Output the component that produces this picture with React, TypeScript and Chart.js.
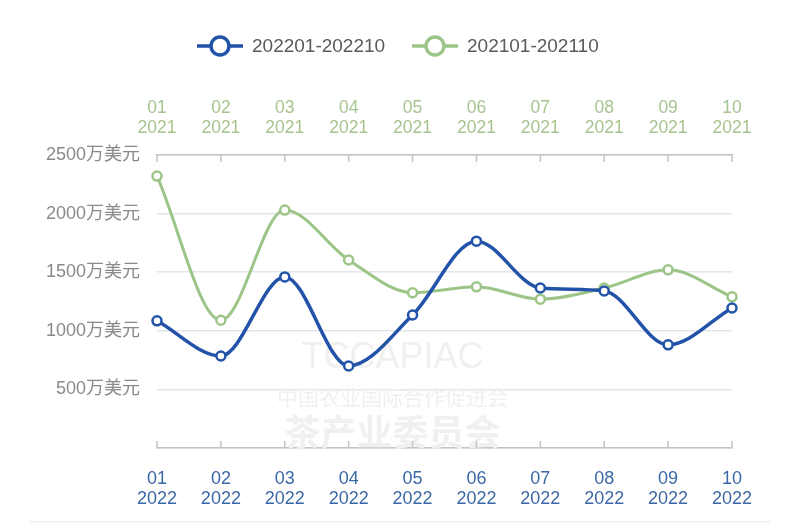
import React, { useEffect, useRef } from 'react';
import { Chart, registerables } from 'chart.js';

Chart.register(...registerables);

// ---- data ----
const months = ['01', '02', '03', '04', '05', '06', '07', '08', '09', '10'];
const yearBottom = '2022';
const yearTop = '2021';
const series2022 = [1085, 785, 1460, 700, 1135, 1765, 1365, 1340, 880, 1195];
const series2021 = [2320, 1090, 2030, 1605, 1325, 1375, 1270, 1365, 1520, 1290];
const seriesNames = ['202201-202210', '202101-202110'];
const yMax = 2500;
const yStep = 500;
const yUnit = '万美元';

const BLUE = '#2253a9';
const GREEN = '#9dc588';
const FONT = '"Liberation Sans", Arial, "Noto Sans CJK SC", sans-serif';

const bottomLabels = months.map((m) => [m, yearBottom]);
const topLabels = months.map((m) => [m, yearTop]);

const decorPlugin = {
  id: 'decor',
  beforeDatasetsDraw(chart: any) {
    const ctx = chart.ctx;
    const area = chart.chartArea;
    const cx = (area.left + area.right) / 2 - 52;
    ctx.save();
    ctx.fillStyle = '#f0f0f0';
    ctx.textAlign = 'center';
    ctx.textBaseline = 'middle';
    ctx.font = '36px ' + FONT;
    ctx.fillText('TCCAPIAC', cx, 358);
    ctx.font = '21px "Noto Sans CJK SC", sans-serif';
    ctx.fillText('中国农业国际合作促进会', cx, 397);
    ctx.font = 'bold 36px "Noto Sans CJK SC", sans-serif';
    ctx.fillText('茶产业委员会', cx, 432);
    ctx.restore();
  },
  afterDraw(chart: any) {
    const ctx = chart.ctx;
    const area = chart.chartArea;
    const xb = chart.scales.x;
    ctx.save();
    // inward tick marks
    ctx.strokeStyle = '#c4c4c4';
    ctx.lineWidth = 1.5;
    for (let i = 0; i < months.length; i++) {
      const px = xb.getPixelForValue(i);
      ctx.beginPath();
      ctx.moveTo(px, area.top);
      ctx.lineTo(px, area.top + 7);
      ctx.moveTo(px, area.bottom);
      ctx.lineTo(px, area.bottom - 7);
      ctx.stroke();
    }
    // bottom separator
    ctx.fillStyle = '#f2f2f2';
    ctx.fillRect(30, 521, 740, 2);
    // legend
    const items = [
      { name: seriesNames[0], color: BLUE, x: 197 },
      { name: seriesNames[1], color: GREEN, x: 412 },
    ];
    const y = 46;
    ctx.font = '19px ' + FONT;
    ctx.textBaseline = 'middle';
    ctx.textAlign = 'left';
    for (const it of items) {
      ctx.strokeStyle = it.color;
      ctx.lineWidth = 3.5;
      ctx.beginPath();
      ctx.moveTo(it.x, y);
      ctx.lineTo(it.x + 46, y);
      ctx.stroke();
      ctx.beginPath();
      ctx.arc(it.x + 23, y, 9, 0, Math.PI * 2);
      ctx.fillStyle = '#ffffff';
      ctx.fill();
      ctx.lineWidth = 3.5;
      ctx.stroke();
      ctx.fillStyle = '#5a5a5a';
      ctx.fillText(it.name, it.x + 55, y + 1);
    }
    ctx.restore();
  },
};

export default function App() {
  const ref = useRef<HTMLCanvasElement | null>(null);
  useEffect(() => {
    if (!ref.current) return;
    const chart = new Chart(ref.current, {
      type: 'line',
      data: {
        labels: bottomLabels as any,
        datasets: [
          {
            label: seriesNames[0],
            data: series2022,
            xAxisID: 'x',
            yAxisID: 'y',
            borderColor: BLUE,
            borderWidth: 3.5,
            cubicInterpolationMode: 'monotone',
            pointRadius: 4.5,
            pointBorderWidth: 2.5,
            pointBackgroundColor: '#ffffff',
            pointBorderColor: BLUE,
            clip: false as any,
          },
          {
            label: seriesNames[1],
            data: series2021,
            xAxisID: 'xTop',
            yAxisID: 'y',
            borderColor: GREEN,
            borderWidth: 3,
            cubicInterpolationMode: 'monotone',
            pointRadius: 4.5,
            pointBorderWidth: 2.5,
            pointBackgroundColor: '#ffffff',
            pointBorderColor: GREEN,
            clip: false as any,
          },
        ],
      },
      options: {
        animation: false,
        responsive: true,
        maintainAspectRatio: false,
        layout: { padding: { top: 80, left: 0, right: 68, bottom: 0 } },
        plugins: { legend: { display: false }, tooltip: { enabled: false } },
        scales: {
          x: {
            type: 'category',
            position: 'bottom',
            labels: bottomLabels as any,
            offset: false,
            grid: { display: false, drawTicks: false },
            border: { display: true, color: '#c4c4c4', width: 1.5 },
            ticks: {
              color: '#3b68a6',
              font: { size: 18, family: FONT, lineHeight: 1.1 },
              padding: 21,
              maxRotation: 0,
              autoSkip: false,
            },
            afterFit: (s: any) => {
              s.height = 84;
            },
          },
          xTop: {
            type: 'category',
            position: 'top',
            labels: topLabels as any,
            offset: false,
            grid: { display: false, drawTicks: false },
            border: { display: true, color: '#c4c4c4', width: 1.5 },
            ticks: {
              color: '#a6c48f',
              font: { size: 17.5, family: FONT, lineHeight: 1.12 },
              padding: 17,
              maxRotation: 0,
              autoSkip: false,
            },
            afterFit: (s: any) => {
              s.height = 75;
            },
          },
          y: {
            min: 0,
            max: yMax,
            ticks: {
              stepSize: yStep,
              color: '#8a8a8a',
              font: { size: 18, family: FONT },
              padding: 17,
              callback: (v: any) => (Number(v) === 0 ? '' : v + yUnit),
            },
            grid: {
              color: '#e4e4ec',
              lineWidth: 1.5,
              drawTicks: false,
            },
            border: { display: false },
            afterFit: (s: any) => {
              s.width = 157;
            },
          },
        },
      },
      plugins: [decorPlugin],
    });
    return () => chart.destroy();
  }, []);
  return (
    <div style={{ position: 'absolute', left: 0, top: 0, width: 800, height: 532, background: '#fff' }}>
      <canvas ref={ref} />
    </div>
  );
}
